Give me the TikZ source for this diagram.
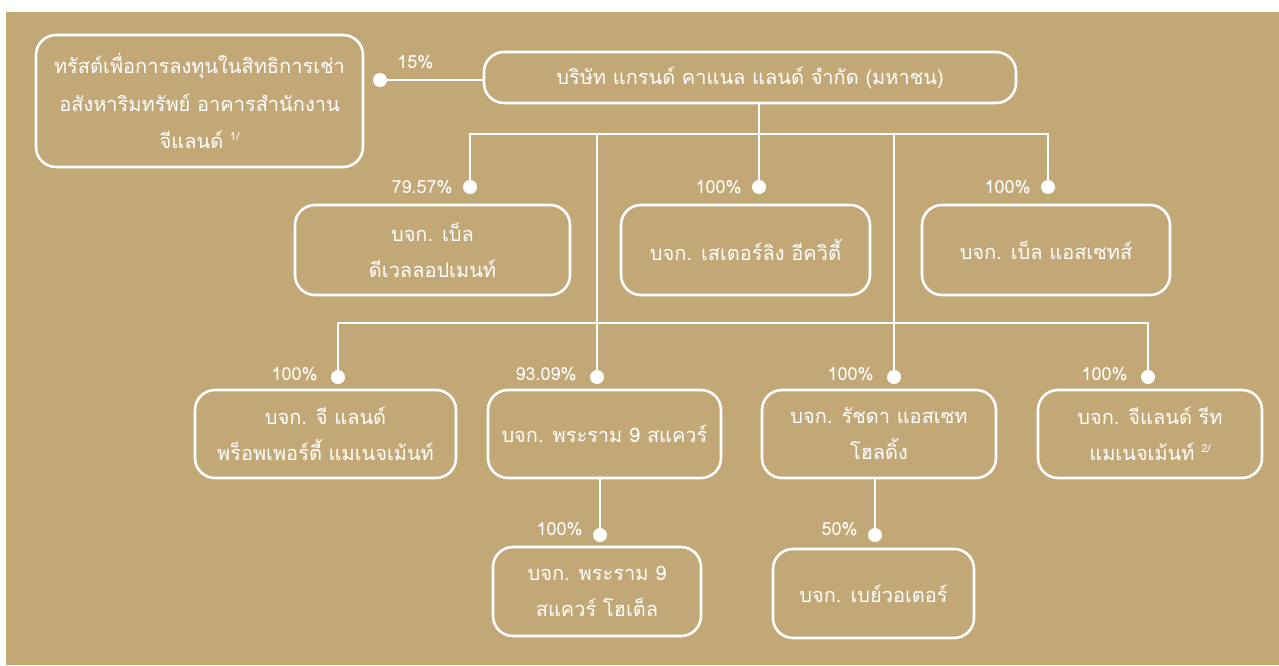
\documentclass[tikz,border=0pt]{standalone}
\usepackage{fontspec}
\newfontfamily\thaifont[Script=Thai]{Loma}
\usetikzlibrary{positioning}
\definecolor{tanbg}{HTML}{C3A877}
\newcommand{\supnote}[1]{{\fontsize{11}{11}\selectfont\raisebox{8pt}{#1}}}
\begin{document}
\begin{tikzpicture}[x=1pt,y=-1pt,
  box/.style={draw=white, line width=2.6pt, rounded corners=20pt, align=center, text=white,
    font=\thaifont\fontsize{20}{36}\selectfont, inner sep=0pt},
  dot/.style={circle, fill=white, minimum size=14pt, inner sep=0pt},
  pct/.style={text=white, font=\thaifont\fontsize{18}{18}\selectfont, inner sep=0pt},
  conn/.style={draw=white, line width=2.6pt}]
\fill[white] (0,0) rectangle (1279,665);
\fill[tanbg] (6,12) rectangle (1279,665);
\useasboundingbox (0,0) rectangle (1279,665);

% boxes
\node[box, minimum width=327pt, minimum height=132pt, font=\thaifont\fontsize{20}{37.5}\selectfont] (trust) at (199.5,101)
  {ทรัสต์เพื่อการลงทุนในสิทธิการเช่า\\อสังหาริมทรัพย์ อาคารสำนักงาน\\จีแลนด์ \supnote{1/}};
\node[box, minimum width=532pt, minimum height=51pt] (parent) at (750,77.5)
  {บริษัท แกรนด์ คาแนล แลนด์ จำกัด (มหาชน)};
\node[box, minimum width=275pt, minimum height=90pt] (A) at (432.5,250) {บจก. เบ็ล\\ดีเวลลอปเมนท์};
\node[box, minimum width=249pt, minimum height=90pt] (B) at (745.5,250) {บจก. เสเตอร์ลิง อีควิตี้};
\node[box, minimum width=248pt, minimum height=90pt] (C) at (1046,250) {บจก. เบ็ล แอสเซทส์};
\node[box, minimum width=261pt, minimum height=88pt] (D) at (325.5,434) {บจก. จี แลนด์\\พร็อพเพอร์ตี้ แมเนจเม้นท์};
\node[box, minimum width=233pt, minimum height=88pt] (E) at (604.5,434) {บจก. พระราม 9 สแควร์};
\node[box, minimum width=234pt, minimum height=88pt] (F) at (879,434) {บจก. รัชดา แอสเซท\\โฮลดิ้ง};
\node[box, minimum width=224pt, minimum height=88pt] (G) at (1150,434) {บจก. จีแลนด์ รีท\\แมเนจเม้นท์ \supnote{2/}};
\node[box, minimum width=208pt, minimum height=89pt] (H) at (597,591.5) {บจก. พระราม 9\\สแควร์ โฮเต็ล};
\node[box, minimum width=201pt, minimum height=89pt] (I) at (873.5,593.5) {บจก. เบย์วอเตอร์};

% dots
\node[dot] (d15) at (380,80) {};
\node[dot] (dA) at (470,187) {};
\node[dot] (dB) at (759,187) {};
\node[dot] (dC) at (1048,187) {};
\node[dot] (dD) at (338,377) {};
\node[dot] (dE) at (597,377) {};
\node[dot] (dF) at (894,377) {};
\node[dot] (dG) at (1148,377) {};
\node[dot] (dH) at (600,535) {};
\node[dot] (dI) at (875,535) {};

\coordinate (bus1) at (759,134);
\coordinate (bus2) at (0,323);

% connectors
\draw[conn] (d15) -- (d15 -| parent.west);
\draw[conn] (parent.south -| bus1) -- (bus1);
\draw[conn] (dA) -- (dA |- bus1) -- (dC |- bus1) -- (dC);
\draw[conn] (dB) -- (dB |- bus1);
\draw[conn] (dE) -- (dE |- bus1);
\draw[conn] (dF) -- (dF |- bus1);
\draw[conn] (dD) -- (dD |- bus2) -- (dG |- bus2) -- (dG);
\draw[conn] (E.south -| dH) -- (dH);
\draw[conn] (F.south -| dI) -- (dI);

% percentages
\node[pct, above right=6pt and 12pt of d15] (p15) {15\%};
\node[pct, left=10pt of dA] (pA) {79.57\%};
\node[pct, left=10pt of dB] (pB) {100\%};
\node[pct, left=10pt of dC] (pC) {100\%};
\node[pct, left=13pt of dD, yshift=3pt] (pD) {100\%};
\node[pct, left=13pt of dE, yshift=3pt] (pE) {93.09\%};
\node[pct, left=13pt of dF, yshift=3pt] (pF) {100\%};
\node[pct, left=13pt of dG, yshift=3pt] (pG) {100\%};
\node[pct, left=10pt of dH, yshift=6pt] (pH) {100\%};
\node[pct, left=10pt of dI, yshift=6pt] (pI) {50\%};
\end{tikzpicture}
\end{document}
